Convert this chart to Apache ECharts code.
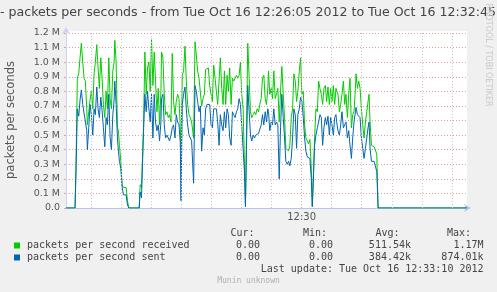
<!DOCTYPE html>
<html><head><meta charset="utf-8">
<script src="https://cdn.jsdelivr.net/npm/echarts@6/dist/echarts.min.js"></script>
<style>html,body{margin:0;padding:0;background:#f0f0f0}#c{width:497px;height:292px}</style>
</head><body><div id="c"></div>
<script>
// seconds after 12:26:00 (window: 12:26:05 .. 12:32:45)
const seconds = [5,14,15,16.3,17.7,19,20.3,21.7,23,24.3,25.7,26.3,27.7,29,30.3,31.7,33,34.3,35.7,37,38.3,39.7,41,42.3,43.7,45,46.3,47.7,49,50.3,51.7,53,53.7,55,56.3,57.3,58.3,59.7,61,62.3,63.7,65,66.3,67.7,78,79,80.3,82.3,83.7,85,86.3,87.7,89,90.3,91.7,93,94.3,95.7,97,98.3,99.7,100.3,101.7,103,104.3,105.7,107,108.3,109.7,111,112.3,113.7,115,116.3,117.7,119,119.7,121,122.3,123.7,125,126.3,127.7,129,130.3,131.7,132.3,133.7,135,136.3,137.7,139,140.3,141.7,143,144.3,145.7,147,148.3,149.7,151,152.3,153.7,155,156.3,157.7,159,160.3,161.7,163,164.3,165.7,167,168.3,169.7,171,172.3,173.7,175,176.3,177.7,179,180.3,181.7,183,184,185,186.3,187.7,189,190.3,191.7,193,194.3,195.7,197,198.3,199.7,201,202.3,203.7,205,206.3,207,208.3,209.7,211,212.3,213.7,215,216.3,217.7,219,220.3,221.7,223,224.3,225.7,227,228.3,229.7,231,232.3,233.7,235,236.3,237.7,239,240.3,241.7,243,244.3,245.7,247,248.3,249.7,250.7,252,253,254.3,255.7,257,258.3,259.7,261,262.3,263.7,265,266.3,267.7,269,270.3,271.7,273,274.3,275,276.3,277.7,279,280.3,281.7,283,284.3,285.7,287,288.3,289.7,291,292.3,293.7,294.3,295.7,297,298.3,299.7,301,302.3,303.7,305,306.3,307.3,308.3,309.7,311,312.3,313.7,315,316.3,405];
// packets per second received (millions)
const received = [0,0,.30,.89,.92,1.03,1.13,1.00,.89,.87,.68,.57,.66,.74,.80,.68,.92,1.00,1.12,.96,.82,1.03,.89,.71,.62,.80,.68,1.03,.75,.68,.94,1.00,1.15,1.00,.55,.53,.43,.32,.16,.14,.13,.14,.05,0,0,.16,.14,.55,1.07,.78,.96,1.00,.80,1.16,.84,1.07,.87,.66,.82,.57,.80,1.07,1.03,.78,.64,.66,.62,.64,.59,1.06,.73,.64,.73,.78,.75,.55,.40,.91,.94,1.11,.87,.71,.64,.62,.59,.59,.48,1.14,1.05,.94,.89,.90,.70,.75,.78,.95,.96,.96,.84,.78,.73,.98,.89,.80,.71,.71,1.03,.82,.71,.94,.71,.91,.80,.96,.71,.89,.87,.89,.91,.89,.91,1.00,.78,.68,.30,.02,.50,1.13,.89,.66,.62,.64,.66,.64,.68,.66,.71,.75,.89,.91,.75,.71,.82,.94,.78,.82,.75,.94,.75,.78,.82,.59,.80,.97,.78,.62,.41,.40,.39,.43,.62,.68,.92,.87,.73,.80,.94,1.03,.78,.80,.57,.48,.46,.44,.47,.27,.01,.02,.48,.68,.66,.87,.82,.78,.71,.82,.84,.73,.83,.71,.82,.73,.84,.71,.82,.82,.78,.66,.71,.78,.87,.71,.78,.62,.78,.89,.55,.64,.66,.82,.92,.82,.87,.82,.68,.57,.48,.59,.66,.73,.78,.59,.43,.43,.42,.42,.37,0,0];
// packets per second sent (millions)
const sent = [0,0,.25,.68,.63,.74,.81,.71,.65,.64,.53,.40,.55,.71,.64,.50,.68,.64,.83,.68,.62,.76,.67,.55,.42,.62,.57,.78,.48,.40,.64,.74,.87,.71,.48,.39,.32,.27,.14,.09,.10,.09,.02,0,0,.11,.07,.52,.78,.66,.80,.68,.59,.78,.48,.78,.59,.53,.57,.46,.59,.75,.78,.57,.48,.50,.48,.46,.50,.55,.57,.48,.64,.59,.57,.45,.05,.71,.78,.83,.68,.57,.50,.48,.46,.46,.17,.84,.80,.73,.66,.70,.39,.55,.50,.68,.71,.72,.71,.57,.55,.68,.68,.68,.59,.43,.64,.57,.53,.66,.55,.68,.64,.48,.43,.66,.64,.62,.66,.68,.75,.71,.57,.57,.25,.01,.40,.84,.66,.50,.46,.50,.48,.50,.49,.51,.50,.57,.64,.57,.66,.59,.68,.66,.53,.59,.57,.68,.57,.59,.57,.20,.55,.78,.62,.48,.32,.30,.32,.29,.34,.48,.68,.64,.41,.64,.68,.76,.73,.62,.48,.39,.35,.34,.34,.20,.01,.01,.43,.50,.55,.59,.64,.62,.43,.55,.62,.57,.63,.50,.62,.57,.50,.62,.64,.59,.53,.50,.57,.66,.55,.57,.59,.48,.53,.43,.34,.48,.59,.66,.69,.64,.64,.62,.48,.41,.34,.41,.48,.55,.59,.41,.32,.32,.32,.31,.25,0,0];
const gridSeconds = [30,60,90,120,150,180,210,270,300,330,360,390];
const majorSeconds = [240];
const majorLabels = ['12:30'];
const seriesNames = ['packets per second received','packets per second sent'];
const seriesColors = ['#00cc00','#0066b3'];
const statHeaders = ['Cur:','Min:','Avg:','Max:'];
const statsReceived = ['0.00','0.00','511.54k','1.17M'];
const statsSent = ['0.00','0.00','384.42k','874.01k'];
const titleText = '- packets per seconds - from Tue Oct 16 12:26:05 2012 to Tue Oct 16 12:32:45';
const yTitle = 'packets per seconds';
const lastUpdate = 'Last update: Tue Oct 16 12:33:10 2012';
const footer = 'Munin unknown';
const watermark = 'RRDTOOL / TOBI OETIKER';

const chart = echarts.init(document.getElementById('c'), null, {renderer:'canvas'});
const toPairs = arr => seconds.map((s,i)=>[s,arr[i]]);
const mono = '"DejaVu Sans Mono", monospace';
const sans = '"DejaVu Sans", sans-serif';
const statRight = [260, 333, 411, 483.5];
const headerLeft = [230.5, 303, 375.5, 447];
const g = [];
g.push({type:'rect', shape:{x:66,y:31,width:401,height:2}, style:{fill:'#fff'}, silent:true, z:-1});
g.push({type:'text', x:496, y:13, style:{text:titleText, font:'12.6px '+sans, fill:'#444', align:'right', verticalAlign:'middle'}});
g.push({type:'text', x:11, y:120, rotation:Math.PI/2, style:{text:yTitle, font:'11.5px '+sans, fill:'#555', align:'center', verticalAlign:'middle'}});
g.push({type:'text', x:488, y:55, rotation:-Math.PI/2, style:{text:watermark, font:'8px '+sans, fill:'#c8c8c8', align:'center', verticalAlign:'middle'}});
statHeaders.forEach((h,i)=>g.push({type:'text', x:headerLeft[i], y:233.5, style:{text:h, font:'10px '+mono, fill:'#444', align:'left', verticalAlign:'middle'}}));
[statsReceived, statsSent].forEach((row,r)=>{
  const y = r===0 ? 245.5 : 257.5;
  g.push({type:'rect', shape:{x:14,y:y-3,width:6,height:6}, style:{fill:seriesColors[r]}});
  g.push({type:'text', x:27, y:y, style:{text:seriesNames[r], font:'10px '+mono, fill:'#444', align:'left', verticalAlign:'middle'}});
  row.forEach((v,i)=>g.push({type:'text', x:statRight[i], y:y, style:{text:v, font:'10px '+mono, fill:'#444', align:'right', verticalAlign:'middle'}}));
});
g.push({type:'text', x:483.5, y:269.5, style:{text:lastUpdate, font:'10px '+mono, fill:'#444', align:'right', verticalAlign:'middle'}});
g.push({type:'text', x:248.5, y:281, style:{text:footer, font:'8px '+mono, fill:'#b0b0b0', align:'center', verticalAlign:'middle'}});

chart.setOption({
  animation:false,
  backgroundColor:'#f0f0f0',
  grid:{left:66, right:30, top:33, bottom:84, show:true, backgroundColor:'#ffffff', borderWidth:0},
  xAxis:{type:'value', min:5, max:405,
    axisLine:{show:true, lineStyle:{color:'#b8c4ee', width:1}, symbol:['none','arrow'], symbolSize:[6,7], symbolOffset:[0,4]},
    axisTick:{show:false},
    splitLine:{show:false},
    axisLabel:{customValues:majorSeconds, formatter:v=>majorLabels[majorSeconds.indexOf(v)] || '', color:'#555', fontSize:10, fontFamily:'DejaVu Sans', margin:4}
  },
  yAxis:{type:'value', min:0, max:1.2, interval:0.1,
    axisLine:{show:true, lineStyle:{color:'#ccd4f4', width:1}, symbol:['none','arrow'], symbolSize:[6,7], symbolOffset:[0,6]},
    axisTick:{show:true, length:2, lineStyle:{color:'#e4a0a0'}},
    splitLine:{show:true, lineStyle:{color:'#e4a0a0', type:[1,2], width:1}},
    axisLabel:{formatter:v=> v===0 ? '0.0' : v.toFixed(1)+' M', color:'#555', fontSize:9.5, fontFamily:'DejaVu Sans', margin:6}
  },
  graphic:g,
  series:[
    {type:'line', data:[[5,0]], symbol:'none', lineStyle:{opacity:0}, silent:true, z:1,
      markLine:{silent:true, symbol:'none', label:{show:false},
        data:[].concat(gridSeconds.map(s=>({xAxis:s, lineStyle:{color:'#c8c8c8', type:[1,2], width:1}})),
                       majorSeconds.map(s=>({xAxis:s, lineStyle:{color:'#e4a0a0', type:[1,2], width:1}})))}},
    {name:seriesNames[0], type:'line', data:toPairs(received), symbol:'none', lineStyle:{color:seriesColors[0], width:1}, z:3},
    {name:seriesNames[1], type:'line', data:toPairs(sent), symbol:'none', lineStyle:{color:seriesColors[1], width:1}, z:4}
  ]
});
</script></body></html>
